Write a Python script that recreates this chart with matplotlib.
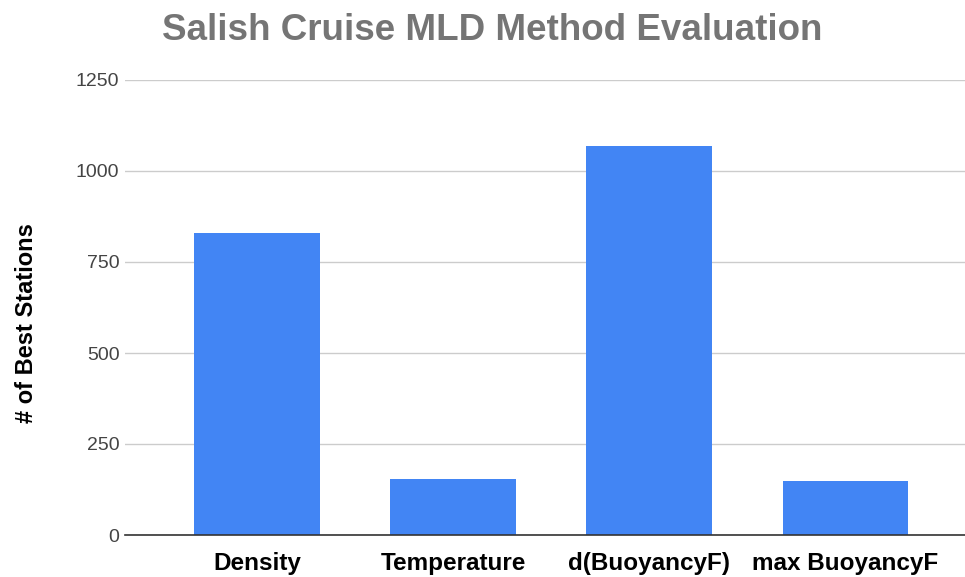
import matplotlib
matplotlib.use("Agg")
import matplotlib.pyplot as plt

methods = ["Density", "Temperature", "d(BuoyancyF)", "max BuoyancyF"]
best_stations = [831, 155, 1069, 147]
y_ticks = [0, 250, 500, 750, 1000, 1250]

plt.rcParams["font.family"] = ["Liberation Sans", "DejaVu Sans"]

fig = plt.figure(figsize=(9.65, 5.77), dpi=100)
ax = fig.add_axes([125 / 965, 42 / 577, 840 / 965, 455 / 577])

x = list(range(len(methods)))
ax.bar(x, best_stations, width=0.64, color="#4285F4", zorder=3)

ax.set_xlim(-0.673, 3.61)
ax.set_ylim(0, 1250)
ax.set_yticks(y_ticks)
ax.set_yticklabels([str(v) for v in y_ticks], fontsize=14, color="#444444")
ax.set_xticks(x)
ax.set_xticklabels(methods, fontsize=17.5, fontweight="bold", color="#000000")
ax.tick_params(axis="both", length=0)
ax.tick_params(axis="y", pad=4)
ax.tick_params(axis="x", pad=12)

ax.grid(axis="y", color="#cccccc", linewidth=1, zorder=0)
for side in ["top", "right", "left"]:
    ax.spines[side].set_visible(False)
ax.spines["bottom"].set_color("#333333")
ax.spines["bottom"].set_linewidth(1.2)
ax.spines["bottom"].set_zorder(4)

ax.set_ylabel("# of Best Stations", fontsize=17, fontweight="bold", va="center")
ax.yaxis.set_label_coords(-0.117, 0.466)
fig.text(0.5105, 0.948, "Salish Cruise MLD Method Evaluation", ha="center", va="center",
         fontsize=26.5, fontweight="bold", color="#757575")

fig.savefig("out.png", dpi=100)
